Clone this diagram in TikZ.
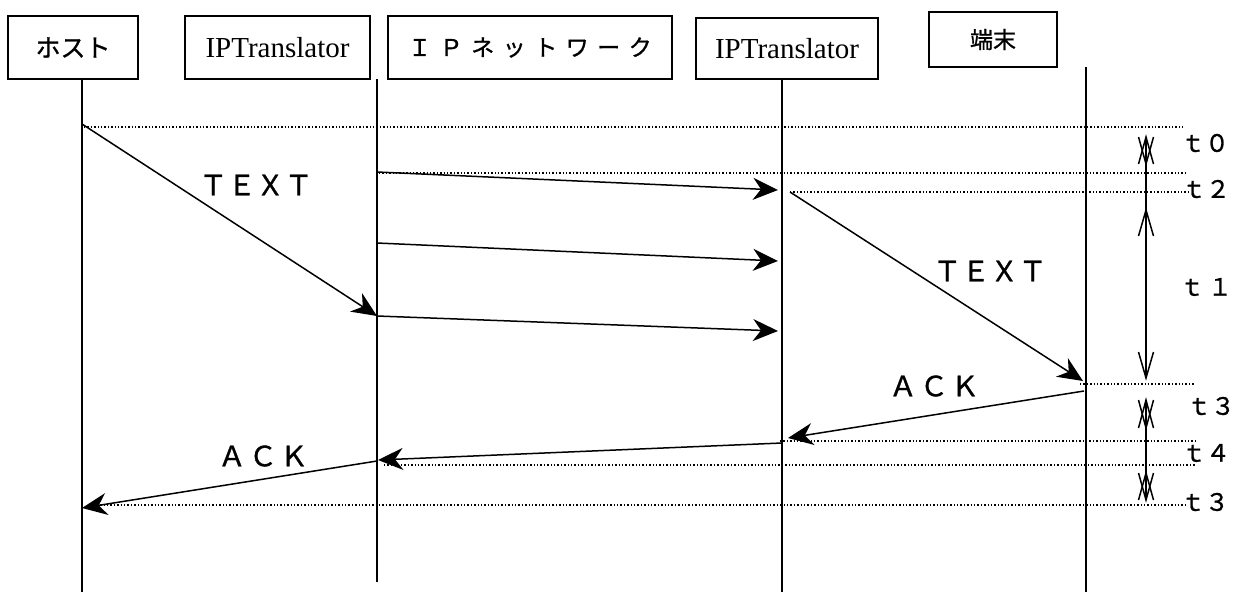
\documentclass[tikz,border=0pt]{standalone}
\usepackage{fontspec}
\setmainfont{Liberation Serif}
\newfontfamily\jp{Noto Sans CJK JP}[FakeBold=1]
\usetikzlibrary{arrows.meta}
\newcommand\cb[2]{\makebox[#1]{#2}}
\begin{document}
\begin{tikzpicture}[x=1pt,y=-1pt,
  box/.style={draw,line width=1.5pt,inner sep=0pt},
  life/.style={line width=1.5pt},
  msg/.style={line width=1.5pt,-{Stealth[length=25pt,width=22pt,inset=8pt]}},
  dot/.style={line width=1.2pt,dash pattern=on 1.4pt off 2pt},
  big/.style={font=\jp\fontsize{28}{28}\selectfont,inner sep=0pt},
  tl/.style={font=\jp\fontsize{24}{24}\selectfont,inner sep=0pt},
  tm/.style={line width=1.5pt}]
\useasboundingbox[fill=white] (0,0) rectangle (1233,592);
% boxes
\node[box,minimum width=130pt,minimum height=63pt] (host) at (73,47.5) {\jp\fontsize{25}{25}\selectfont ホスト};
\node[box,minimum width=185pt,minimum height=63pt] (ipt1) at (277.5,47.5) {\fontsize{29}{29}\selectfont IPTranslator};
\node[box,minimum width=284pt,minimum height=63pt] (net) at (530,47.5) {\jp\fontsize{23}{23}\selectfont \cb{31.5pt}{Ｉ}\cb{31.5pt}{Ｐ}\cb{31.5pt}{ネ}\cb{31.5pt}{ッ}\cb{31.5pt}{ト}\cb{31.5pt}{ワ}\cb{31.5pt}{ー}\cb{31.5pt}{ク}};
\node[box,minimum width=182pt,minimum height=61pt] (ipt2) at (787,48.5) {\fontsize{29}{29}\selectfont IPTranslator};
\node[box,minimum width=128pt,minimum height=55pt] (term) at (993,39.5) {\jp\fontsize{23}{23}\selectfont 端末};
% lifelines
\coordinate (hT) at (82,79);   \coordinate (hB) at (82,592);
\coordinate (p1T) at (377,79); \coordinate (p1B) at (377,582);
\coordinate (p2T) at (782,79); \coordinate (p2B) at (782,592);
\coordinate (tT) at (1086,67); \coordinate (tB) at (1086,592);
\draw[life] (hT) -- (hB);
\draw[life] (p1T) -- (p1B);
\draw[life] (p2T) -- (p2B);
\draw[life] (tT) -- (tB);
% dotted lines
\coordinate (d1a) at (84,127);  \coordinate (d1b) at (1183,127);
\coordinate (d2a) at (379,173); \coordinate (d2b) at (1186,173);
\coordinate (d3a) at (790,192); \coordinate (d3b) at (1190,192);
\coordinate (d4a) at (1080,384);\coordinate (d4b) at (1195,384);
\coordinate (d5a) at (780,441); \coordinate (d5b) at (1197,441);
\coordinate (d6a) at (384,465); \coordinate (d6b) at (1196,465);
\coordinate (d7a) at (90,505);  \coordinate (d7b) at (1188,505);
\foreach \d in {d1,d2,d3,d4,d5,d6,d7} \draw[dot] (\d a) -- (\d b);
% messages
\coordinate (m1a) at (82,124);   \coordinate (m1b) at (377,316);
\coordinate (m2a) at (377,172);  \coordinate (m2b) at (778,190);
\coordinate (m3a) at (377,243);  \coordinate (m3b) at (778,261);
\coordinate (m4a) at (377,316);  \coordinate (m4b) at (778,331);
\coordinate (m5a) at (790,192);  \coordinate (m5b) at (1083,381);
\coordinate (m6a) at (1084,391); \coordinate (m6b) at (788,438);
\coordinate (m7a) at (782,443);  \coordinate (m7b) at (378,460);
\coordinate (m8a) at (377,461);  \coordinate (m8b) at (82,508);
\foreach \m in {m1,m2,m3,m4,m5,m6,m7,m8} \draw[msg] (\m a) -- (\m b);
% message labels
\node[big] (lt1) at (256,185) {\cb{28.5pt}{Ｔ}\cb{28.5pt}{Ｅ}\cb{28.5pt}{Ｘ}\cb{28.5pt}{Ｔ}};
\node[big] (lt2) at (990,271) {\cb{28.5pt}{Ｔ}\cb{28.5pt}{Ｅ}\cb{28.5pt}{Ｘ}\cb{28.5pt}{Ｔ}};
\node[big] (la1) at (934,386) {\cb{31pt}{Ａ}\cb{31pt}{Ｃ}\cb{31pt}{Ｋ}};
\node[big] (la2) at (263,456) {\cb{31pt}{Ａ}\cb{31pt}{Ｃ}\cb{31pt}{Ｋ}};
% time markers
\def\tx{1146}
\draw[tm] (\tx,137) -- (\tx,378);
\draw[tm] (\tx,428) -- (\tx,473);
\foreach \a/\b in {137/164,400/428,473/500}{
  \draw[tm] (\tx-7.5,\b) -- (\tx,\a) -- (\tx+7.5,\b);
  \draw[tm] (\tx-7.5,\a) -- (\tx,\b) -- (\tx+7.5,\a);
  \draw[tm] (\tx,\a) -- (\tx,\b);
}
\draw[tm] (\tx-7.5,236) -- (\tx,210) -- (\tx+7.5,236);
\draw[tm] (\tx-7.5,352) -- (\tx,378) -- (\tx+7.5,352);
% time labels
\node[tl] (t0) at (1205,143) {ｔ０};
\node[tl] (t2) at (1206,189) {ｔ２};
\node[tl] (t1) at (1206,287) {ｔ\,１};
\node[tl] (t3a) at (1211,406) {ｔ３};
\node[tl] (t4) at (1206,453) {ｔ４};
\node[tl] (t3b) at (1205,502) {ｔ３};
\end{tikzpicture}
\end{document}
